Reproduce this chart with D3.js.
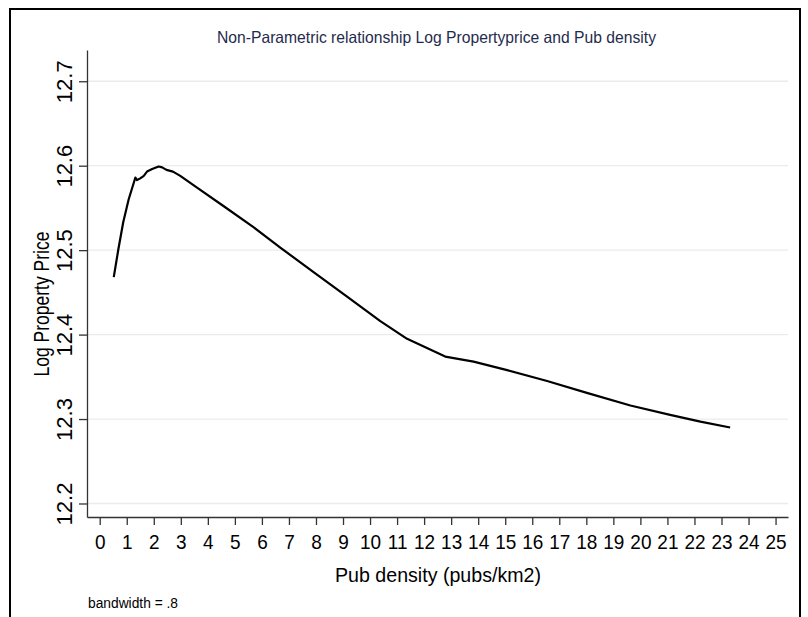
<!DOCTYPE html>
<html>
<head>
<meta charset="utf-8">
<script src="https://cdn.jsdelivr.net/npm/d3@7"></script>
<style>
  html, body { margin: 0; padding: 0; background: #fff; }
  svg { display: block; }
  text { font-family: "Liberation Sans", Arial, Helvetica, sans-serif; }
</style>
</head>
<body>
<svg id="chart" width="808" height="617"></svg>
<script>
// Lowess fit: pub density (pubs/km2) vs log property price
const pubDensity = [0.52, 0.69, 0.87, 1.07, 1.32, 1.38, 1.50, 1.63, 1.75, 1.94, 2.18, 2.31, 2.47, 2.71, 2.98,
  3.60, 4.59, 5.70, 6.68, 7.91, 9.15, 10.38, 11.37, 12.78, 13.83, 15.07, 16.55, 18.02, 19.63, 21.10, 22.22, 23.32];
const logPrice = [12.468, 12.501, 12.533, 12.560, 12.586, 12.583, 12.585, 12.588, 12.593, 12.596, 12.599, 12.598, 12.595, 12.593, 12.588,
  12.574, 12.552, 12.527, 12.503, 12.474, 12.445, 12.416, 12.395, 12.374, 12.368, 12.358, 12.345, 12.331, 12.316, 12.305, 12.297, 12.290];

const xTicks = d3.range(0, 26);
const yTicks = [12.2, 12.3, 12.4, 12.5, 12.6, 12.7];

const titleText = "Non-Parametric relationship Log Propertyprice and Pub density";
const xTitle = "Pub density (pubs/km2)";
const yTitle = "Log Property Price";
const noteText = "bandwidth = .8";

const svg = d3.select("#chart");

const plot = { left: 87, right: 788, top: 50, bottom: 517 };

const x = d3.scaleLinear().domain([-0.47, 25.46]).range([plot.left, plot.right]);
const y = d3.scaleLinear().domain([12.184, 12.737]).range([plot.bottom, plot.top]);

// outer frame
svg.append("rect")
  .attr("x", 10).attr("y", 9)
  .attr("width", 790).attr("height", 640)
  .attr("fill", "#fff")
  .attr("stroke", "#000")
  .attr("stroke-width", 2);

// horizontal grid lines
svg.append("g").selectAll("line")
  .data(yTicks)
  .join("line")
  .attr("x1", plot.left).attr("x2", plot.right)
  .attr("y1", d => y(d)).attr("y2", d => y(d))
  .attr("stroke", "#ebebeb")
  .attr("stroke-width", 1.3);

// y axis with rotated labels
const yAxis = svg.append("g")
  .attr("transform", `translate(${plot.left},0)`)
  .call(d3.axisLeft(y).tickValues(yTicks).tickSize(8).tickSizeOuter(0).tickFormat(d3.format(".1f")));
yAxis.select(".domain").attr("stroke", "#333").attr("stroke-width", 1.3);
yAxis.selectAll(".tick line").attr("stroke", "#333").attr("stroke-width", 1.3);
yAxis.selectAll(".tick text")
  .attr("transform", "rotate(-90)")
  .attr("x", 0).attr("y", -15).attr("dy", 0)
  .attr("text-anchor", "middle")
  .attr("font-size", 22)
  .attr("fill", "#000");

// x axis
const xAxis = svg.append("g")
  .attr("transform", `translate(0,${plot.bottom})`)
  .call(d3.axisBottom(x).tickValues(xTicks).tickSize(8).tickSizeOuter(0).tickFormat(d3.format("d")));
xAxis.select(".domain").attr("stroke", "#333").attr("stroke-width", 1.3);
xAxis.selectAll(".tick line").attr("stroke", "#333").attr("stroke-width", 1.3);
xAxis.selectAll(".tick text")
  .attr("y", 32).attr("dy", 0)
  .attr("transform", "scale(0.95,1)")
  .attr("font-size", 20)
  .attr("fill", "#000");

// fitted curve
const line = d3.line()
  .x((d, i) => x(pubDensity[i]))
  .y(d => y(d));
svg.append("path")
  .datum(logPrice)
  .attr("d", line)
  .attr("fill", "none")
  .attr("stroke", "#000")
  .attr("stroke-width", 2.2)
  .attr("stroke-linejoin", "round");

// titles
svg.append("text")
  .attr("x", 436.5).attr("y", 43)
  .attr("text-anchor", "middle")
  .attr("font-size", 16.5)
  .attr("textLength", 439)
  .attr("lengthAdjust", "spacingAndGlyphs")
  .attr("fill", "#1f2b4d")
  .text(titleText);

svg.append("text")
  .attr("x", 438).attr("y", 582)
  .attr("text-anchor", "middle")
  .attr("font-size", 21)
  .attr("textLength", 206)
  .attr("lengthAdjust", "spacingAndGlyphs")
  .attr("fill", "#000")
  .text(xTitle);

svg.append("text")
  .attr("transform", "translate(49,304) rotate(-90)")
  .attr("text-anchor", "middle")
  .attr("font-size", 22)
  .attr("textLength", 145)
  .attr("lengthAdjust", "spacingAndGlyphs")
  .attr("fill", "#000")
  .text(yTitle);

svg.append("text")
  .attr("x", 88).attr("y", 608)
  .attr("font-size", 15.5)
  .attr("textLength", 90)
  .attr("lengthAdjust", "spacingAndGlyphs")
  .attr("fill", "#000")
  .text(noteText);
</script>
</body>
</html>
